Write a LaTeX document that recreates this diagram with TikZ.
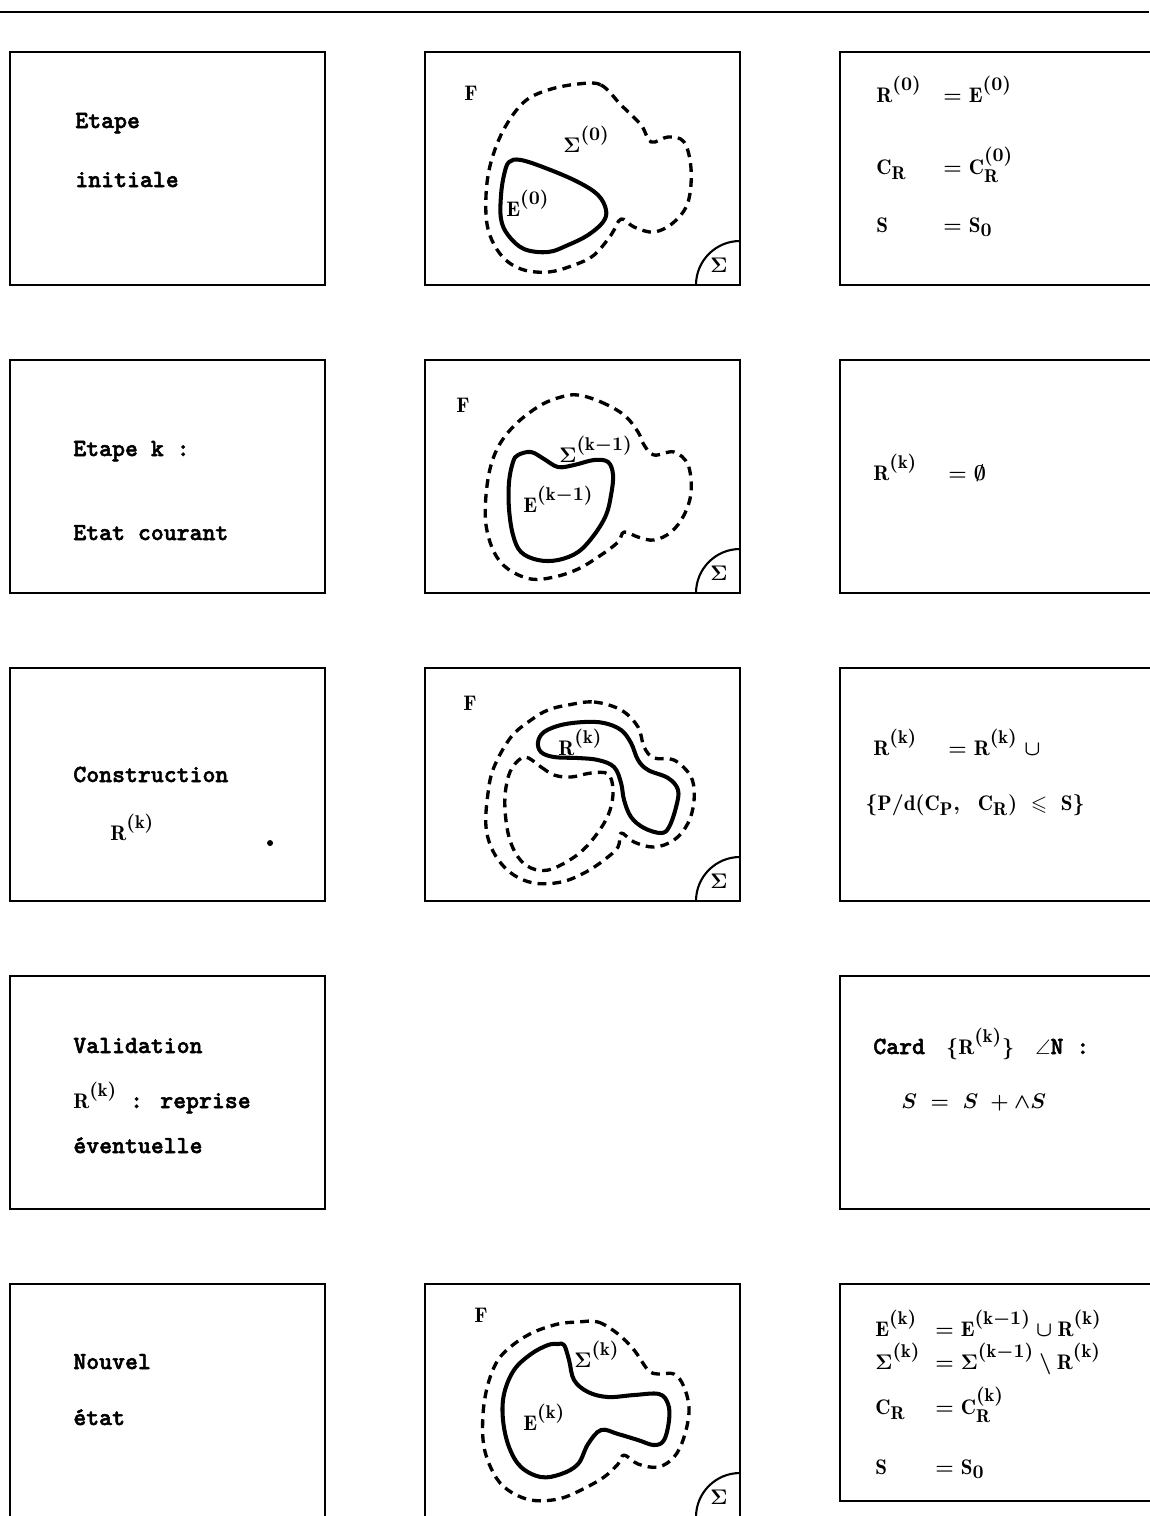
\documentclass[tikz,border=0pt]{standalone}
\usepackage{amsmath,amssymb}
\usepackage{fontspec}
\usepackage{tikz}
\usetikzlibrary{positioning}
\newfontfamily\twfont{lmmonolt10-bold.otf}[FakeBold=2]

\newcommand{\tw}[1]{{\fontsize{14}{17}\selectfont\twfont #1}}
\newcommand{\mth}[1]{{\fontsize{12}{14}\selectfont\boldmath$#1$}}
\newcommand{\expo}[1]{^{\raisebox{2pt}{\fontsize{10.5}{12}\selectfont\boldmath$(#1)$}}}
\newcommand{\low}[1]{_{\raisebox{-1pt}{\fontsize{10.5}{12}\selectfont\boldmath$#1$}}}
\newcommand{\eqrow}[3]{\makebox[#1][l]{$#2$}$=$\hspace{0.14cm}$#3$}

\begin{document}
\begin{tikzpicture}[
    node distance=1.5cm and 2cm,
    box/.style={rectangle, draw, line width=1.6pt, outer sep=0pt, minimum width=6.3cm, minimum height=4.66cm, inner sep=0pt},
    stage/.style={anchor=base west, inner sep=0pt, font=\fontsize{14}{17}\selectfont\twfont},
    eqn/.style={anchor=base west, inner sep=0pt, font=\fontsize{12}{14}\selectfont\boldmath},
    fig/.style={anchor=base west, inner sep=0pt, font=\fontsize{12}{14}\selectfont\boldmath},
    sigmaline/.style={line width=1.9pt, dash pattern=on 5pt off 3.5pt, line join=round},
    eline/.style={line width=2.3pt, line join=round}
]
    \useasboundingbox (0,0) rectangle (22.98,-30.32);
    \coordinate (ruleW) at (0,-0.24);
    \coordinate (ruleE) at (22.98,-0.24);
    \draw[line width=1pt] (ruleW) -- (ruleE);

    % les cinq etapes
    \node[box] (s1) at (3.35,-3.37) {};
    \node[box, below=of s1] (s2) {};
    \node[box, below=of s2] (s3) {};
    \node[box, below=of s3] (s4) {};
    \node[box, below=of s4] (s5) {};

    \node[box, right=of s1] (f1) {};
    \node[box, right=of s2] (f2) {};
    \node[box, right=of s3] (f3) {};
    \node[box, right=of s5] (f5) {};

    \node[box, right=of f1] (c1) {};
    \node[box, right=of f2] (c2) {};
    \node[box, right=of f3] (c3) {};
    \node[box, below=of c3] (c4) {};
    \node[box, below=of c4, minimum height=4.34cm] (c5) {};

    % coin Sigma
    \foreach \f in {f1,f2,f3,f5} {
        \draw[line width=1.2pt] ([xshift=-0.88cm]\f.south east) arc[start angle=180, end angle=90, radius=0.88cm];
        \node[font=\fontsize{12}{14}\selectfont\boldmath] (sig\f) at ([xshift=-0.42cm, yshift=0.40cm]\f.south east) {$\Sigma$};
    }

    % colonne de gauche
    \begin{scope}[shift={(s1.north west)}, x=0.02cm, y=-0.02cm]
        \node[stage] (etape) at (65,76) {Etape};
        \node[stage] (initiale) at (65,135) {initiale};
    \end{scope}
    \begin{scope}[shift={(s2.north west)}, x=0.02cm, y=-0.02cm]
        \node[stage] (etapek) at (63,96) {Etape k :};
        \node[stage] (courant) at (63,180) {Etat courant};
    \end{scope}
    \begin{scope}[shift={(s3.north west)}, x=0.02cm, y=-0.02cm]
        \node[stage] (constr) at (63,114) {Construction};
        \node[eqn] (constrR) at (100,172) {$\mathrm{R}\expo{\mathrm{k}}$};
        \fill (260,175) circle[radius=0.06cm];
    \end{scope}
    \begin{scope}[shift={(s4.north west)}, x=0.02cm, y=-0.02cm]
        \node[stage] (valid) at (63,77) {Validation};
        \node[stage] (reprise) at (63,132) {\mth{\mathrm{R}\expo{\mathrm{k}}}\ : reprise};
        \node[stage] (eventuelle) at (63,177) {éventuelle};
    \end{scope}
    \begin{scope}[shift={(s5.north west)}, x=0.02cm, y=-0.02cm]
        \node[stage] (nouvel) at (63,85) {Nouvel};
        \node[stage] (etat) at (63,141) {état};
    \end{scope}

    % figures
    \begin{scope}[shift={(f1.north west)}, x=0.02cm, y=-0.02cm]
        \draw[sigmaline] plot[smooth cycle, tension=0.6] coordinates {(153,32) (176,33) (196,53) (216,73) (226,90) (243,85) (259,90) (266,117) (263,150) (249,170) (229,180) (209,175) (196,167) (186,183) (169,203) (149,213) (123,220) (96,217) (76,203) (63,177) (61,143) (66,110) (79,77) (99,50) (123,38)};
        \draw[eline] plot[smooth cycle, tension=0.6] coordinates {(84,110) (96,108) (123,117) (153,130) (173,143) (181,158) (178,170) (163,183) (143,193) (123,200) (99,197) (83,183) (76,167) (76,143) (79,123)};
        \node[fig] (F1) at (39,48) {$\mathrm{F}$};
        \node[fig] (sigma0) at (138,100) {$\Sigma\expo{0}$};
        \node[fig] (E0) at (81,164) {$\mathrm{E}\expo{0}$};
    \end{scope}
    \begin{scope}[shift={(f2.north west)}, x=0.02cm, y=-0.02cm]
        \draw[sigmaline] plot[smooth cycle, tension=0.6] coordinates {(153,35) (176,42) (199,55) (213,72) (219,85) (229,95) (249,92) (263,105) (266,132) (259,155) (246,172) (229,180) (213,177) (199,172) (193,182) (176,195) (153,209) (129,217) (106,219) (83,209) (69,192) (61,165) (61,135) (66,105) (76,82) (93,62) (116,45) (136,37)};
        \draw[eline] plot[smooth cycle, tension=0.6] coordinates {(93,95) (106,92) (119,99) (133,107) (149,105) (169,100) (183,102) (188,115) (186,135) (181,155) (169,175) (153,192) (133,200) (113,200) (96,192) (88,175) (84,149) (84,122) (88,102)};
        \node[fig] (F2) at (31,52) {$\mathrm{F}$};
        \node[fig] (sigmak1) at (134,102) {$\Sigma\expo{\mathrm{k}{-}1}$};
        \node[fig] (Ek1) at (98,152) {$\mathrm{E}\expo{\mathrm{k}{-}1}$};
    \end{scope}
    \begin{scope}[shift={(f3.north west)}, x=0.02cm, y=-0.02cm]
        \draw[sigmaline] plot[smooth cycle, tension=0.6] coordinates {(143,37) (169,34) (196,42) (213,59) (219,79) (229,90) (249,92) (266,109) (269,132) (263,155) (249,172) (229,179) (209,174) (196,165) (193,179) (179,192) (159,205) (136,214) (109,215) (86,205) (69,185) (61,159) (63,125) (69,99) (86,69) (106,52) (123,42)};
        \draw[sigmaline] plot[smooth cycle, tension=0.6] coordinates {(100,89) (116,99) (129,107) (146,109) (166,105) (183,106) (188,122) (185,142) (176,160) (160,180) (143,193) (123,202) (106,200) (93,189) (84,169) (80,142) (81,119) (87,100)};
        \draw[eline] plot[smooth cycle, tension=0.6] coordinates {(113,74) (119,64) (136,57) (159,54) (179,55) (196,62) (206,75) (213,92) (223,102) (243,110) (253,122) (251,139) (244,159) (236,165) (219,160) (206,149) (199,132) (196,115) (189,99) (173,92) (153,90) (129,89) (116,84)};
        \node[fig] (F3) at (38,42) {$\mathrm{F}$};
        \node[fig] (Rk) at (133,87) {$\mathrm{R}\expo{\mathrm{k}}$};
    \end{scope}
    \begin{scope}[shift={(f5.north west)}, x=0.02cm, y=-0.02cm]
        \draw[sigmaline] plot[smooth cycle, tension=0.6] coordinates {(153,38) (173,38) (193,50) (209,66) (223,86) (233,90) (249,90) (259,103) (264,126) (259,153) (249,173) (233,183) (213,180) (199,171) (193,180) (179,193) (156,206) (133,215) (106,216) (83,206) (69,190) (59,163) (58,130) (63,100) (73,76) (89,60) (109,48) (133,40)};
        \draw[eline] plot[smooth cycle, tension=0.6] coordinates {(133,60) (139,61) (144,76) (149,96) (163,108) (183,113) (209,111) (234,110) (243,120) (244,136) (239,156) (229,161) (213,156) (193,150) (176,146) (163,160) (153,180) (136,190) (116,193) (96,183) (84,163) (78,136) (79,110) (89,86) (106,70) (123,61)};
        \node[fig] (F5) at (49,38) {$\mathrm{F}$};
        \node[fig] (sigmak) at (149,83) {$\Sigma\expo{\mathrm{k}}$};
        \node[fig] (Ek) at (98,146) {$\mathrm{E}\expo{\mathrm{k}}$};
    \end{scope}

    % colonne de droite
    \begin{scope}[shift={(c1.north west)}, x=0.02cm, y=-0.02cm]
        \node[eqn] (r0) at (36,50) {\eqrow{1.34cm}{\mathrm{R}\expo{0}}{\mathrm{E}\expo{0}}};
        \node[eqn] (cr0) at (36,122) {\eqrow{1.34cm}{\mathrm{C}\low{\mathrm{R}}}{\mathrm{C}\low{\mathrm{R}}\expo{0}}};
        \node[eqn] (s0) at (36,180) {\eqrow{1.34cm}{\mathrm{S}}{\mathrm{S}\low{0}}};
    \end{scope}
    \begin{scope}[shift={(c2.north west)}, x=0.02cm, y=-0.02cm]
        \node[eqn] (rvide) at (33,120) {\eqrow{1.5cm}{\mathrm{R}\expo{\mathrm{k}}}{\emptyset}};
    \end{scope}
    \begin{scope}[shift={(c3.north west)}, x=0.02cm, y=-0.02cm]
        \node[eqn] (runion) at (33,87) {\eqrow{1.5cm}{\mathrm{R}\expo{\mathrm{k}}}{\mathrm{R}\expo{\mathrm{k}}\;\cup}};
        \node[eqn] (rset) at (25,142) {$\{\mathrm{P}/\mathrm{d}(\mathrm{C}\low{\mathrm{P}},\ \ \mathrm{C}\low{\mathrm{R}})\ \leqslant\ \mathrm{S}\}$};
    \end{scope}
    \begin{scope}[shift={(c4.north west)}, x=0.02cm, y=-0.02cm]
        \node[eqn] (card) at (33,78) {\tw{Card}\quad$\{\mathrm{R}\expo{\mathrm{k}}\}$\quad$\angle$\tw{N :}};
        \node[eqn] (sinc) at (61,132) {$S \;=\; S \;+{\wedge}S$};
    \end{scope}
    \begin{scope}[shift={(c5.north west)}, x=0.02cm, y=-0.02cm]
        \node[eqn] (ek) at (35,52) {\eqrow{1.2cm}{\mathrm{E}\expo{\mathrm{k}}}{\mathrm{E}\expo{\mathrm{k}{-}1}\cup\mathrm{R}\expo{\mathrm{k}}}};
        \node[eqn] (sk) at (35,85) {\eqrow{1.2cm}{\Sigma\expo{\mathrm{k}}}{\Sigma\expo{\mathrm{k}{-}1}\setminus\mathrm{R}\expo{\mathrm{k}}}};
        \node[eqn] (crk) at (35,130) {\eqrow{1.2cm}{\mathrm{C}\low{\mathrm{R}}}{\mathrm{C}\low{\mathrm{R}}\expo{\mathrm{k}}}};
        \node[eqn] (sk0) at (35,190) {\eqrow{1.2cm}{\mathrm{S}}{\mathrm{S}\low{0}}};
    \end{scope}
\end{tikzpicture}
\end{document}
